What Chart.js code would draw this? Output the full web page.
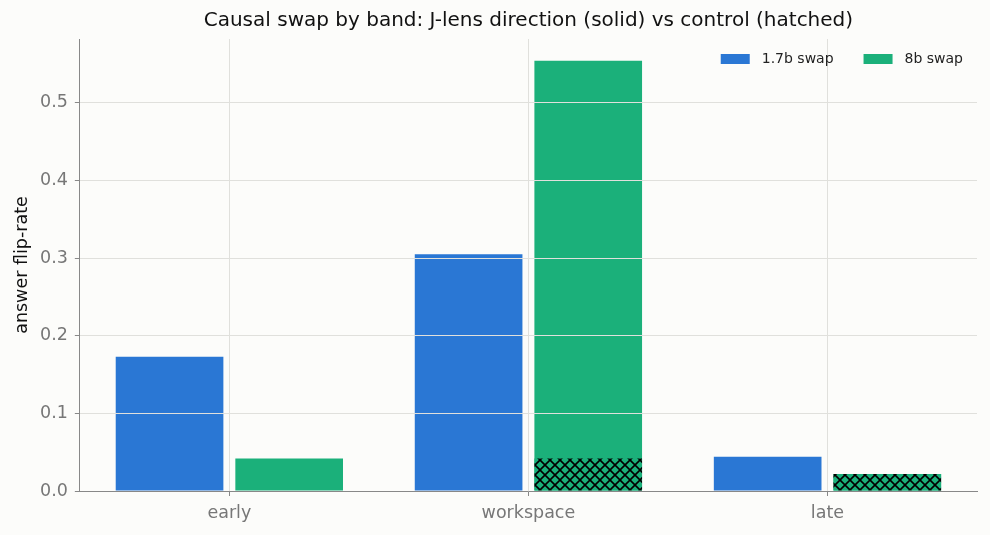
<!DOCTYPE html>
<html>
<head>
<meta charset="utf-8">
<script src="https://cdn.jsdelivr.net/npm/chart.js@4.4.1/dist/chart.umd.min.js"></script>
<style>
  html, body { margin: 0; padding: 0; background: #fcfcfa; }
  #wrap { width: 990px; height: 535px; }
</style>
</head>
<body>
<div id="wrap"><canvas id="myChart" width="990" height="535"></canvas></div>
<script>
const bands = ['early', 'workspace', 'late'];
const swap17b = [0.173, 0.305, 0.044];
const swap8b = [0.042, 0.554, 0.022];
const control17b = [0, 0, 0];
const control8b = [0, 0.042, 0.022];
const yTicks = [0, 0.1, 0.2, 0.3, 0.4, 0.5];

const blue = '#2a77d4';
const green = '#1bb07a';
const font = 'DejaVu Sans';

function makeHatch(base) {
  const size = 10;
  const c = document.createElement('canvas');
  c.width = size;
  c.height = size;
  const g = c.getContext('2d');
  g.fillStyle = base;
  g.fillRect(0, 0, size, size);
  g.strokeStyle = '#000';
  g.lineWidth = 1.6;
  g.beginPath();
  g.moveTo(-1, -1); g.lineTo(size + 1, size + 1);
  g.moveTo(-1, size + 1); g.lineTo(size + 1, -1);
  g.stroke();
  return g.createPattern(c, 'repeat');
}

const background = {
  id: 'background',
  beforeDraw(chart) {
    const ctx = chart.ctx;
    ctx.save();
    ctx.fillStyle = '#fcfcfa';
    ctx.fillRect(0, 0, chart.width, chart.height);
    ctx.restore();
  }
};

// legend inside the plot, top right (only the solid series)
const cornerLegend = {
  id: 'cornerLegend',
  afterDraw(chart) {
    const ctx = chart.ctx;
    const area = chart.chartArea;
    const items = chart.data.datasets.slice(0, 2);
    ctx.save();
    ctx.font = '14px "' + font + '"';
    ctx.textBaseline = 'middle';
    const boxW = 29, boxH = 10, gap = 12, itemGap = 30;
    let total = 0;
    items.forEach((d, i) => {
      total += boxW + gap + ctx.measureText(d.label).width + (i ? itemGap : 0);
    });
    let x = area.right - 14 - total;
    const y = area.top + 20;
    items.forEach((d) => {
      ctx.fillStyle = d.backgroundColor;
      ctx.fillRect(x, y - boxH / 2, boxW, boxH);
      x += boxW + gap;
      ctx.fillStyle = '#222';
      ctx.fillText(d.label, x, y);
      x += ctx.measureText(d.label).width + itemGap;
    });
    ctx.restore();
  }
};

const context = document.getElementById('myChart').getContext('2d');

const chart = new Chart(context, {
  type: 'bar',
  data: {
    labels: bands,
    datasets: [
      { label: '1.7b swap', data: swap17b, backgroundColor: blue, stack: 's17', order: 2, borderWidth: 0 },
      { label: '8b swap', data: swap8b, backgroundColor: green, stack: 's8', order: 2, borderWidth: 0 },
      { label: '1.7b control', data: control17b, backgroundColor: makeHatch(blue), stack: 's17', order: 1, borderWidth: 0 },
      { label: '8b control', data: control8b, backgroundColor: makeHatch(green), stack: 's8', order: 1, borderWidth: 0 },
    ],
  },
  options: {
    responsive: false,
    animation: false,
    categoryPercentage: 0.8,
    barPercentage: 0.9,
    layout: { padding: { left: 8, right: 13, top: 0, bottom: 4 } },
    plugins: {
      title: {
        display: true,
        text: 'Causal swap by band: J-lens direction (solid) vs control (hatched)',
        color: '#111',
        fullSize: false,
        font: { family: font, size: 20, weight: 'normal' },
        padding: { top: 9, bottom: 6 },
      },
      legend: { display: false },
      tooltip: { enabled: false },
    },
    scales: {
      x: {
        offset: true,
        grid: { offset: false, color: '#e0e0dc', tickColor: '#888', tickLength: 5 },
        border: { color: '#888', z: 2 },
        ticks: { color: '#777', font: { family: font, size: 17.5 }, padding: 7 },
      },
      y: {
        min: 0,
        max: 0.582,
        stacked: false,
        afterBuildTicks: (scale) => {
          scale.ticks = yTicks.map((v) => ({ value: v }));
        },
        grid: { color: '#e0e0dc', tickColor: '#888', tickLength: 5, z: 1 },
        border: { color: '#888', z: 2 },
        ticks: {
          color: '#777',
          font: { family: font, size: 17.5 },
          padding: 7,
          callback: (v) => Number(v).toFixed(1),
        },
        title: {
          display: true,
          text: 'answer flip-rate',
          color: '#111',
          font: { family: font, size: 17.5 },
          padding: { top: 4, bottom: 0 },
        },
      },
    },
  },
  plugins: [background, cornerLegend],
});
</script>
</body>
</html>
